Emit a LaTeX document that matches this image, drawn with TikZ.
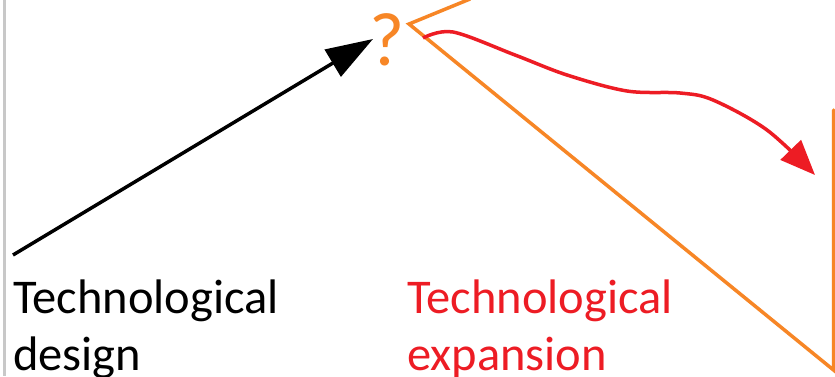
\documentclass[tikz,border=0pt]{standalone}
\usepackage{fontspec}
\setmainfont{Carlito}
\usetikzlibrary{arrows.meta}
\definecolor{orng}{RGB}{247,134,38}
\definecolor{rd}{RGB}{237,28,36}
\definecolor{gry}{RGB}{200,200,200}
\tikzset{
  lbl/.style={inner sep=0pt, align=left, font=\fontsize{48.5}{57}\selectfont},
  edge/.style={line width=3.5pt, orng, line cap=round, line join=miter},
  blackarrow/.style={line width=3.5pt, -{Triangle[length=47pt,width=31pt]}},
  redarrow/.style={line width=3.5pt, rd, -{Triangle[length=35pt,width=28pt]}}
}
\begin{document}
\begin{tikzpicture}[x=1pt,y=-1pt]
\useasboundingbox (0,0) rectangle (835,376);
\fill[white] (0,0) rectangle (835,376);
% left gray border
\draw[gry, line width=3pt] (4.5,0) -- (4.5,376);
% orange wedge
\coordinate (apex) at (409,24);
\coordinate (top) at (470,-1);
\coordinate (corner) at (833.5,370);
\coordinate (rtop) at (833.5,110);
\draw[edge] (top) -- (apex) -- (corner) -- (rtop);
% question mark
\node[text=orng, inner sep=0pt, font=\fontsize{76}{76}\selectfont, anchor=base] (q) at (387,65) {?};
% black arrow
\coordinate (bstart) at (13,255);
\coordinate (btip) at (373,39);
\draw[blackarrow] (bstart) -- (btip);
% red curve
\coordinate (rstart) at (423,38);
\coordinate (rtip) at (815,175);
\draw[redarrow] plot[smooth, tension=0.55] coordinates {(rstart) (453,32) (515,55) (567,75) (627,91) (680,93) (713,100) (767,130) (rtip)};
% labels
\node[lbl, anchor=base west] (design) at (13,370) {Technological\\design};
\node[lbl, anchor=base west, text=rd] (expansion) at (407,370) {Technological\\expansion};
\end{tikzpicture}
\end{document}
